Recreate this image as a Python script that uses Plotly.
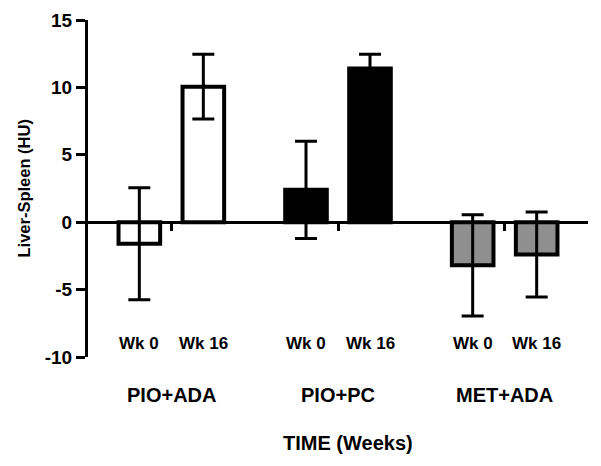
import plotly.graph_objects as go

# data
groups = ["PIO+ADA", "PIO+PC", "MET+ADA"]
weeks = ["Wk 0", "Wk 16"]
wk0_mean = [-1.6, 2.4, -3.2]
wk0_err = [4.15, 3.6, 3.75]
wk16_mean = [10.05, 11.4, -2.4]
wk16_err = [2.4, 1.05, 3.15]
group_colors = ["white", "black", "#8f8f8f"]
y_ticks = [-10, -5, 0, 5, 10, 15]

FONT = "Liberation Sans, Arial, sans-serif"
x_pos = list(range(len(groups)))

fig = go.Figure()
for name, mean, err in [(weeks[0], wk0_mean, wk0_err), (weeks[1], wk16_mean, wk16_err)]:
    fig.add_trace(go.Bar(
        x=x_pos, y=mean, name=name,
        marker=dict(color=group_colors, line=dict(color="black", width=4)),
        error_y=dict(type="data", array=err, visible=True,
                     color="black", thickness=3, width=11),
    ))

# Wk labels under each bar, group labels under those
slot = 0.384
annotations = []
for i, g in enumerate(groups):
    for j, wk in enumerate(weeks):
        annotations.append(dict(
            x=i + (j - 0.5) * slot, y=-9.0, xref="x", yref="y", text=f"<b>{wk}</b>",
            showarrow=False, font=dict(family=FONT, size=17, color="black"),
            xanchor="center", yanchor="middle"))
    annotations.append(dict(
        x=i, y=-0.113, xref="x", yref="paper", text=f"<b>{g}</b>",
        showarrow=False, font=dict(family=FONT, size=20, color="black"),
        xanchor="center", yanchor="middle"))
annotations.append(dict(
    x=0.52, y=-0.255, xref="paper", yref="paper", text="<b>TIME (Weeks)</b>",
    showarrow=False, font=dict(family=FONT, size=20, color="black"),
    xanchor="center", yanchor="middle"))
annotations.append(dict(
    x=-0.13, y=0.5, xref="paper", yref="paper", text="<b>Liver-Spleen (HU)</b>",
    textangle=-90, showarrow=False, font=dict(family=FONT, size=16.5, color="black"),
    xanchor="center", yanchor="middle"))

# page body has an 8px default margin, so the figure is sized to fit inside it
fig.update_layout(
    width=593, height=458,
    margin=dict(l=80, r=13, t=12, b=109, autoexpand=False),
    paper_bgcolor="white", plot_bgcolor="white",
    barmode="group", bargap=0.232, bargroupgap=0.35,
    showlegend=False,
    annotations=annotations,
    xaxis=dict(
        range=[-0.5, 2.5], anchor="free", position=0.4, automargin=False,
        showline=True, linecolor="black", linewidth=2.5,
        ticks="outside", tickvals=x_pos, ticklen=7, tickwidth=3, tickcolor="black",
        showticklabels=False, showgrid=False, zeroline=False,
    ),
    yaxis=dict(
        range=[-10, 15], tickvals=y_ticks, ticktext=[str(v) for v in y_ticks],
        automargin=False,
        showline=True, linecolor="black", linewidth=3,
        ticks="outside", ticklen=9, tickwidth=3, tickcolor="black",
        showgrid=False, zeroline=False,
        tickfont=dict(family=FONT, size=19, color="black", weight="bold"),
    ),
)

fig.write_html("out.html")
